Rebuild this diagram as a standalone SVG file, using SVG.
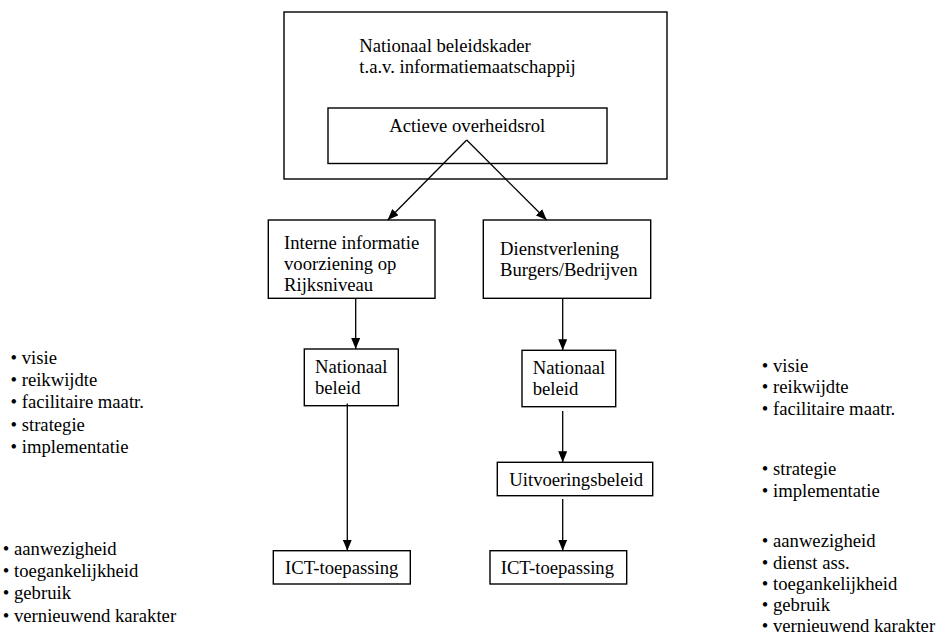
<svg xmlns="http://www.w3.org/2000/svg" width="936" height="639" viewBox="0 0 936 639">
<style>
  .box { fill: #ffffff; stroke: #000000; stroke-width: 1.4; }
  .con { stroke: #000000; stroke-width: 1.3; fill: none; marker-end: url(#arrow); }
</style>
<defs>
  <marker id="arrow" markerUnits="userSpaceOnUse" markerWidth="11" markerHeight="9" refX="11" refY="4.5" orient="auto">
    <path d="M0,0 L11,4.5 L0,9 z" fill="#000000"/>
  </marker>
</defs>
<rect width="936" height="639" fill="#ffffff"/>
<g font-family="'Liberation Serif', 'DejaVu Serif', serif" font-size="18.67" fill="#000000">
<g id="node-kader">
  <rect class="box" x="284" y="12" width="383" height="167"/>
  <text x="359.3" y="51.7">Nationaal beleidskader</text>
  <text x="359.3" y="73.3">t.a.v. informatiemaatschappij</text>
</g>
<g id="node-actieve">
  <rect class="box" x="328" y="108" width="279" height="55.5"/>
  <text x="389.3" y="132">Actieve overheidsrol</text>
</g>
<g id="node-interne">
  <rect class="box" x="268.3" y="220" width="166.7" height="78.3"/>
  <text x="284" y="248.5">Interne informatie</text>
  <text x="284" y="269.5">voorziening op</text>
  <text x="284" y="290.5">Rijksniveau</text>
</g>
<g id="node-dienst">
  <rect class="box" x="483.3" y="220" width="167.4" height="78.3"/>
  <text x="500" y="255">Dienstverlening</text>
  <text x="500" y="276">Burgers/Bedrijven</text>
</g>
<g id="node-nat-left">
  <rect class="box" x="304.3" y="349" width="94" height="56.7"/>
  <text x="315" y="372.5">Nationaal</text>
  <text x="315" y="393.5">beleid</text>
</g>
<g id="node-nat-right">
  <rect class="box" x="522" y="350.3" width="93.7" height="56.4"/>
  <text x="532.7" y="373.5">Nationaal</text>
  <text x="532.7" y="394.5">beleid</text>
</g>
<g id="node-uitvoering">
  <rect class="box" x="497.3" y="462.3" width="155.4" height="33.4"/>
  <text x="509.3" y="485.5">Uitvoeringsbeleid</text>
</g>
<g id="node-ict-left">
  <rect class="box" x="273.3" y="550.7" width="137" height="33.3"/>
  <text x="285" y="573.5">ICT-toepassing</text>
</g>
<g id="node-ict-right">
  <rect class="box" x="490" y="550.7" width="136.7" height="33.3"/>
  <text x="500.7" y="573.5">ICT-toepassing</text>
</g>

<g id="connectors">
  <line class="con" x1="466.7" y1="140" x2="387.7" y2="220"/>
  <line class="con" x1="466.7" y1="140" x2="546.7" y2="220"/>
  <line class="con" x1="355.7" y1="298.3" x2="355.7" y2="349"/>
  <line class="con" x1="562.7" y1="298.3" x2="562.7" y2="350.3"/>
  <line class="con" x1="347.3" y1="403.5" x2="347.3" y2="550.7"/>
  <line class="con" x1="562.7" y1="411" x2="562.7" y2="462.3"/>
  <line class="con" x1="562.7" y1="499" x2="562.7" y2="550.7"/>
</g>

<g id="list-left-1">
  <text x="10.5" y="364">• visie</text>
  <text x="10.5" y="386.2">• reikwijdte</text>
  <text x="10.5" y="408.4">• facilitaire maatr.</text>
  <text x="10.5" y="430.6">• strategie</text>
  <text x="10.5" y="452.8">• implementatie</text>
</g>
<g id="list-left-2">
  <text x="2.8" y="555">• aanwezigheid</text>
  <text x="2.8" y="577.2">• toegankelijkheid</text>
  <text x="2.8" y="599.4">• gebruik</text>
  <text x="2.8" y="621.6">• vernieuwend karakter</text>
</g>
<g id="list-right">
  <text x="761.8" y="371.7">• visie</text>
  <text x="761.8" y="393">• reikwijdte</text>
  <text x="761.8" y="414.5">• facilitaire maatr.</text>
  <text x="761.8" y="475">• strategie</text>
  <text x="761.8" y="496.5">• implementatie</text>
  <text x="761.8" y="547.3">• aanwezigheid</text>
  <text x="761.8" y="568.5">• dienst ass.</text>
  <text x="761.8" y="589.8">• toegankelijkheid</text>
  <text x="761.8" y="611">• gebruik</text>
  <text x="761.8" y="632.3">• vernieuwend karakter</text>
</g>
</g>
</svg>
